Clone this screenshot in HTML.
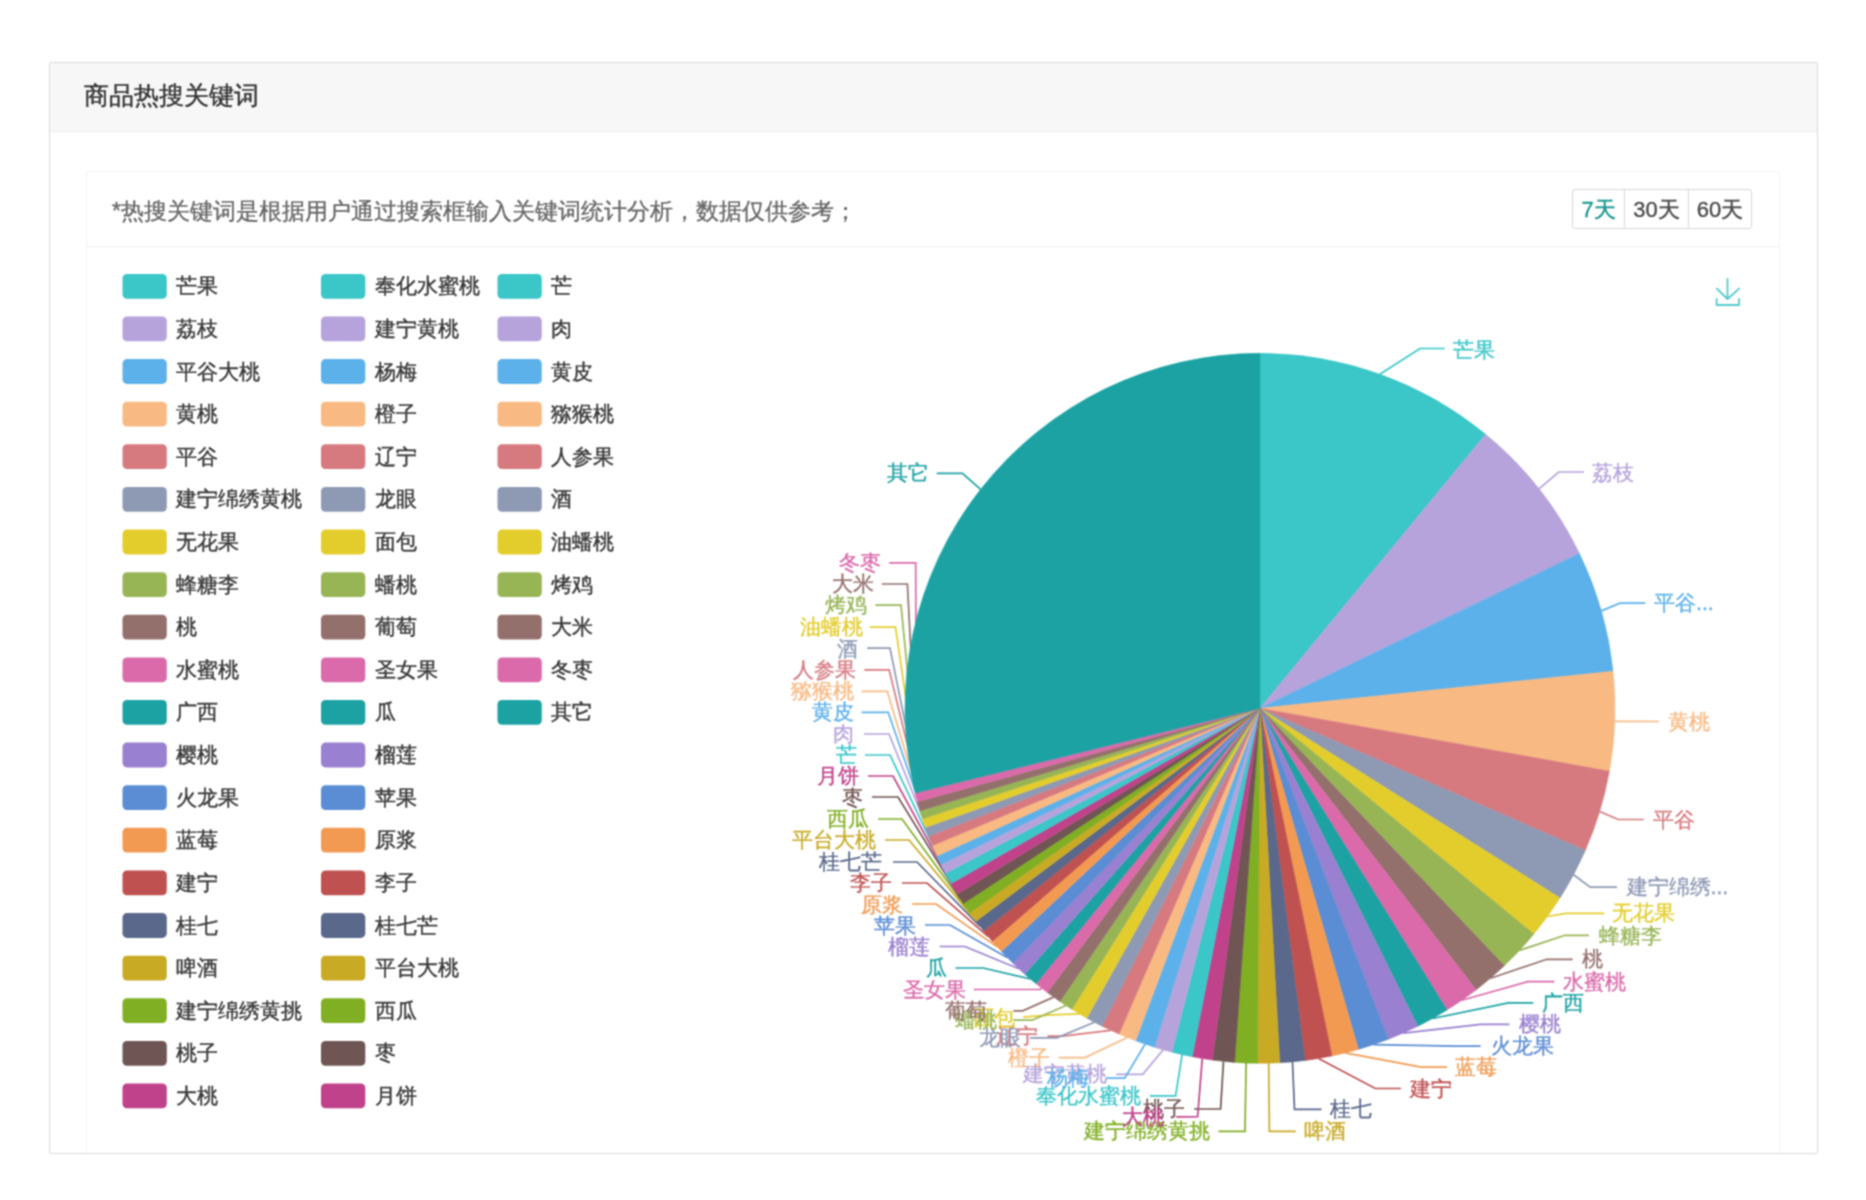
<!DOCTYPE html>
<html><head><meta charset="utf-8"><title>商品热搜关键词</title>
<style>
html,body{margin:0;padding:0;background:#fff;}
body{width:1866px;height:1200px;overflow:hidden;position:relative;font-family:"Liberation Sans",sans-serif;}
.wrap{position:absolute;left:0;top:0;width:1866px;height:1200px;filter:url(#soft);}
.panel{position:absolute;left:49px;top:62px;width:1767px;height:1090px;border:1px solid #dadada;border-radius:2px;background:#fff;overflow:hidden;}
.head{position:absolute;left:0;top:0;right:0;height:68px;background:#f7f7f7;border-bottom:1px solid #ececec;}
.title{position:absolute;left:34px;top:18px;font-size:24.8px;line-height:30px;color:#333;white-space:nowrap;-webkit-text-stroke:0.4px #333;}
.card{position:absolute;left:36px;top:108px;width:1692px;height:990px;border:1px solid #f3f3f3;border-bottom:none;}
.cardhead{position:absolute;left:0;top:0;right:0;height:74px;border-bottom:1px solid #efefef;}
.note{position:absolute;left:25px;top:25px;font-size:23px;line-height:28px;color:#666;white-space:nowrap;-webkit-text-stroke:0.3px #666;}
.btns{position:absolute;left:1485px;top:17px;height:38px;border:1px solid #d6d6d6;border-radius:3px;display:flex;}
.btns div{height:38px;line-height:40px;font-size:22px;color:#484848;text-align:center;-webkit-text-stroke:0.35px currentColor;}
.btns .b1{width:51px;color:#18968f;border-right:1px solid #d6d6d6;}
.btns .b2{width:63px;border-right:1px solid #d6d6d6;}
.btns .b3{width:62px;}
.chart{position:absolute;left:0;top:0;font-family:"Liberation Sans",sans-serif;}
</style></head><body>
<svg width="0" height="0" style="position:absolute;left:0;top:0"><filter id="soft" x="0" y="0" width="100%" height="100%" color-interpolation-filters="sRGB"><feConvolveMatrix order="3" kernelMatrix="1 2 1 2 4 2 1 2 1" divisor="16" edgeMode="duplicate"/></filter></svg>
<div class="wrap">
<div class="panel">
 <div class="head"><div class="title">商品热搜关键词</div></div>
 <div class="card">
  <div class="cardhead">
   <div class="note">*热搜关键词是根据用户通过搜索框输入关键词统计分析，数据仅供参考；</div>
   <div class="btns"><div class="b1">7天</div><div class="b2">30天</div><div class="b3">60天</div></div>
  </div>
 </div>
</div>
<svg class="chart" width="1866" height="1200" viewBox="0 0 1866 1200">
<g class="legend" font-size="21.3" fill="#383838" stroke="#383838" stroke-width="0.4" dominant-baseline="central">
<rect x="122.5" y="273.9" width="44.3" height="24.8" rx="4.5" fill="#3bc6c8" stroke="none"/>
<text x="176" y="286.3">芒果</text>
<rect x="122.5" y="316.5" width="44.3" height="24.8" rx="4.5" fill="#b6a3dc" stroke="none"/>
<text x="176" y="328.9">荔枝</text>
<rect x="122.5" y="359.1" width="44.3" height="24.8" rx="4.5" fill="#5db1ea" stroke="none"/>
<text x="176" y="371.5">平谷大桃</text>
<rect x="122.5" y="401.7" width="44.3" height="24.8" rx="4.5" fill="#f9b982" stroke="none"/>
<text x="176" y="414.1">黄桃</text>
<rect x="122.5" y="444.3" width="44.3" height="24.8" rx="4.5" fill="#d67a80" stroke="none"/>
<text x="176" y="456.7">平谷</text>
<rect x="122.5" y="487.0" width="44.3" height="24.8" rx="4.5" fill="#8e99b4" stroke="none"/>
<text x="176" y="499.4">建宁绵绣黄桃</text>
<rect x="122.5" y="529.6" width="44.3" height="24.8" rx="4.5" fill="#e3cd2d" stroke="none"/>
<text x="176" y="542.0">无花果</text>
<rect x="122.5" y="572.2" width="44.3" height="24.8" rx="4.5" fill="#98b556" stroke="none"/>
<text x="176" y="584.6">蜂糖李</text>
<rect x="122.5" y="614.8" width="44.3" height="24.8" rx="4.5" fill="#94706d" stroke="none"/>
<text x="176" y="627.2">桃</text>
<rect x="122.5" y="657.4" width="44.3" height="24.8" rx="4.5" fill="#da6aaa" stroke="none"/>
<text x="176" y="669.8">水蜜桃</text>
<rect x="122.5" y="700.0" width="44.3" height="24.8" rx="4.5" fill="#1da2a3" stroke="none"/>
<text x="176" y="712.4">广西</text>
<rect x="122.5" y="742.6" width="44.3" height="24.8" rx="4.5" fill="#9a80d0" stroke="none"/>
<text x="176" y="755.0">樱桃</text>
<rect x="122.5" y="785.2" width="44.3" height="24.8" rx="4.5" fill="#5b8dd4" stroke="none"/>
<text x="176" y="797.6">火龙果</text>
<rect x="122.5" y="827.8" width="44.3" height="24.8" rx="4.5" fill="#f29a52" stroke="none"/>
<text x="176" y="840.2">蓝莓</text>
<rect x="122.5" y="870.4" width="44.3" height="24.8" rx="4.5" fill="#c05151" stroke="none"/>
<text x="176" y="882.8">建宁</text>
<rect x="122.5" y="913.1" width="44.3" height="24.8" rx="4.5" fill="#5a688b" stroke="none"/>
<text x="176" y="925.5">桂七</text>
<rect x="122.5" y="955.7" width="44.3" height="24.8" rx="4.5" fill="#c9aa25" stroke="none"/>
<text x="176" y="968.1">啤酒</text>
<rect x="122.5" y="998.3" width="44.3" height="24.8" rx="4.5" fill="#80af24" stroke="none"/>
<text x="176" y="1010.7">建宁绵绣黄挑</text>
<rect x="122.5" y="1040.9" width="44.3" height="24.8" rx="4.5" fill="#6f5553" stroke="none"/>
<text x="176" y="1053.3">桃子</text>
<rect x="122.5" y="1083.5" width="44.3" height="24.8" rx="4.5" fill="#c0428a" stroke="none"/>
<text x="176" y="1095.9">大桃</text>
<rect x="321" y="273.9" width="44.3" height="24.8" rx="4.5" fill="#3bc6c8" stroke="none"/>
<text x="374.5" y="286.3">奉化水蜜桃</text>
<rect x="321" y="316.5" width="44.3" height="24.8" rx="4.5" fill="#b6a3dc" stroke="none"/>
<text x="374.5" y="328.9">建宁黄桃</text>
<rect x="321" y="359.1" width="44.3" height="24.8" rx="4.5" fill="#5db1ea" stroke="none"/>
<text x="374.5" y="371.5">杨梅</text>
<rect x="321" y="401.7" width="44.3" height="24.8" rx="4.5" fill="#f9b982" stroke="none"/>
<text x="374.5" y="414.1">橙子</text>
<rect x="321" y="444.3" width="44.3" height="24.8" rx="4.5" fill="#d67a80" stroke="none"/>
<text x="374.5" y="456.7">辽宁</text>
<rect x="321" y="487.0" width="44.3" height="24.8" rx="4.5" fill="#8e99b4" stroke="none"/>
<text x="374.5" y="499.4">龙眼</text>
<rect x="321" y="529.6" width="44.3" height="24.8" rx="4.5" fill="#e3cd2d" stroke="none"/>
<text x="374.5" y="542.0">面包</text>
<rect x="321" y="572.2" width="44.3" height="24.8" rx="4.5" fill="#98b556" stroke="none"/>
<text x="374.5" y="584.6">蟠桃</text>
<rect x="321" y="614.8" width="44.3" height="24.8" rx="4.5" fill="#94706d" stroke="none"/>
<text x="374.5" y="627.2">葡萄</text>
<rect x="321" y="657.4" width="44.3" height="24.8" rx="4.5" fill="#da6aaa" stroke="none"/>
<text x="374.5" y="669.8">圣女果</text>
<rect x="321" y="700.0" width="44.3" height="24.8" rx="4.5" fill="#1da2a3" stroke="none"/>
<text x="374.5" y="712.4">瓜</text>
<rect x="321" y="742.6" width="44.3" height="24.8" rx="4.5" fill="#9a80d0" stroke="none"/>
<text x="374.5" y="755.0">榴莲</text>
<rect x="321" y="785.2" width="44.3" height="24.8" rx="4.5" fill="#5b8dd4" stroke="none"/>
<text x="374.5" y="797.6">苹果</text>
<rect x="321" y="827.8" width="44.3" height="24.8" rx="4.5" fill="#f29a52" stroke="none"/>
<text x="374.5" y="840.2">原浆</text>
<rect x="321" y="870.4" width="44.3" height="24.8" rx="4.5" fill="#c05151" stroke="none"/>
<text x="374.5" y="882.8">李子</text>
<rect x="321" y="913.1" width="44.3" height="24.8" rx="4.5" fill="#5a688b" stroke="none"/>
<text x="374.5" y="925.5">桂七芒</text>
<rect x="321" y="955.7" width="44.3" height="24.8" rx="4.5" fill="#c9aa25" stroke="none"/>
<text x="374.5" y="968.1">平台大桃</text>
<rect x="321" y="998.3" width="44.3" height="24.8" rx="4.5" fill="#80af24" stroke="none"/>
<text x="374.5" y="1010.7">西瓜</text>
<rect x="321" y="1040.9" width="44.3" height="24.8" rx="4.5" fill="#6f5553" stroke="none"/>
<text x="374.5" y="1053.3">枣</text>
<rect x="321" y="1083.5" width="44.3" height="24.8" rx="4.5" fill="#c0428a" stroke="none"/>
<text x="374.5" y="1095.9">月饼</text>
<rect x="497.5" y="273.9" width="44.3" height="24.8" rx="4.5" fill="#3bc6c8" stroke="none"/>
<text x="551" y="286.3">芒</text>
<rect x="497.5" y="316.5" width="44.3" height="24.8" rx="4.5" fill="#b6a3dc" stroke="none"/>
<text x="551" y="328.9">肉</text>
<rect x="497.5" y="359.1" width="44.3" height="24.8" rx="4.5" fill="#5db1ea" stroke="none"/>
<text x="551" y="371.5">黄皮</text>
<rect x="497.5" y="401.7" width="44.3" height="24.8" rx="4.5" fill="#f9b982" stroke="none"/>
<text x="551" y="414.1">猕猴桃</text>
<rect x="497.5" y="444.3" width="44.3" height="24.8" rx="4.5" fill="#d67a80" stroke="none"/>
<text x="551" y="456.7">人参果</text>
<rect x="497.5" y="487.0" width="44.3" height="24.8" rx="4.5" fill="#8e99b4" stroke="none"/>
<text x="551" y="499.4">酒</text>
<rect x="497.5" y="529.6" width="44.3" height="24.8" rx="4.5" fill="#e3cd2d" stroke="none"/>
<text x="551" y="542.0">油蟠桃</text>
<rect x="497.5" y="572.2" width="44.3" height="24.8" rx="4.5" fill="#98b556" stroke="none"/>
<text x="551" y="584.6">烤鸡</text>
<rect x="497.5" y="614.8" width="44.3" height="24.8" rx="4.5" fill="#94706d" stroke="none"/>
<text x="551" y="627.2">大米</text>
<rect x="497.5" y="657.4" width="44.3" height="24.8" rx="4.5" fill="#da6aaa" stroke="none"/>
<text x="551" y="669.8">冬枣</text>
<rect x="497.5" y="700.0" width="44.3" height="24.8" rx="4.5" fill="#1da2a3" stroke="none"/>
<text x="551" y="712.4">其它</text>
</g>
<g class="lines" fill="none" stroke-width="1.7">
<polyline points="1379.9,374.2 1420.0,348.5 1444.8,348.5" stroke="#3bc6c8"/>
<polyline points="1539.0,488.8 1558.7,472.0 1584.0,472.0" stroke="#b6a3dc"/>
<polyline points="1601.4,610.9 1620.0,603.2 1645.3,603.2" stroke="#5db1ea"/>
<polyline points="1614.8,721.3 1659.0,721.5" stroke="#f9b982"/>
<polyline points="1599.7,811.5 1618.2,819.5 1643.8,819.5" stroke="#d67a80"/>
<polyline points="1573.6,874.7 1590.2,887.2 1617.0,887.2" stroke="#8e99b4"/>
<polyline points="1547.6,916.5 1565.7,913.3 1604.2,913.3" stroke="#e3cd2d"/>
<polyline points="1519.6,950.4 1564.9,935.3 1588.9,935.3" stroke="#98b556"/>
<polyline points="1490.6,978.2 1546.7,959.3 1572.6,959.3" stroke="#94706d"/>
<polyline points="1461.8,1000.3 1527.6,981.7 1554.4,981.7" stroke="#da6aaa"/>
<polyline points="1432.6,1018.5 1508.4,1002.8 1533.3,1002.8" stroke="#1da2a3"/>
<polyline points="1403.3,1033.1 1480.6,1024.4 1509.4,1024.4" stroke="#9a80d0"/>
<polyline points="1373.5,1044.7 1455.0,1046.1 1480.6,1046.1" stroke="#5b8dd4"/>
<polyline points="1345.3,1052.9 1421.2,1067.2 1447.1,1067.2" stroke="#f29a52"/>
<polyline points="1318.6,1058.4 1375.3,1088.5 1401.0,1088.5" stroke="#c05151"/>
<polyline points="1292.5,1061.8 1294.5,1109.4 1321.6,1109.4" stroke="#5a688b"/>
<polyline points="1268.7,1063.2 1269.4,1131.3 1295.8,1131.3" stroke="#c9aa25"/>
<polyline points="1246.1,1063.0 1245.0,1131.3 1218.5,1131.3" stroke="#80af24"/>
<polyline points="1223.5,1061.4 1220.6,1109.0 1194.1,1109.0" stroke="#6f5553"/>
<polyline points="1202.3,1058.6 1197.6,1116.6 1176.3,1116.8" stroke="#c0428a"/>
<polyline points="1182.1,1054.6 1175.6,1095.9 1149.8,1095.9" stroke="#3bc6c8"/>
<polyline points="1163.2,1049.8 1142.8,1074.3 1116.3,1074.3" stroke="#b6a3dc"/>
<polyline points="1145.0,1044.2 1124.7,1078.1 1105.9,1078.1" stroke="#5db1ea"/>
<polyline points="1127.3,1037.6 1085.0,1057.6 1058.5,1057.6" stroke="#f9b982"/>
<polyline points="1110.5,1030.3 1062.8,1036.1 1047.5,1036.1" stroke="#d67a80"/>
<polyline points="1094.4,1022.3 1056.9,1037.9 1029.8,1037.9" stroke="#8e99b4"/>
<polyline points="1079.3,1013.9 1051.0,1014.9 1023.3,1017.2" stroke="#e3cd2d"/>
<polyline points="1065.9,1005.5 1032.1,1020.2 1013.3,1020.2" stroke="#98b556"/>
<polyline points="1053.6,997.1 1022.7,1010.8 1013.3,1010.8" stroke="#94706d"/>
<polyline points="1041.7,988.2 1040.0,989.5 973.8,989.5" stroke="#da6aaa"/>
<polyline points="1030.4,979.0 983.2,968.0 955.5,968.0" stroke="#1da2a3"/>
<polyline points="1018.8,968.8 964.9,946.5 939.6,946.5" stroke="#9a80d0"/>
<polyline points="1007.1,957.4 950.0,925.0 925.0,925.0" stroke="#5b8dd4"/>
<polyline points="996.8,946.6 936.0,904.0 912.0,904.0" stroke="#f29a52"/>
<polyline points="987.9,936.3 927.0,883.0 902.0,883.0" stroke="#c05151"/>
<polyline points="979.8,926.2 917.0,862.0 893.0,862.0" stroke="#5a688b"/>
<polyline points="972.9,917.1 909.0,840.0 885.0,840.0" stroke="#c9aa25"/>
<polyline points="966.6,908.1 902.0,819.0 878.0,819.0" stroke="#80af24"/>
<polyline points="960.5,898.8 898.0,797.0 872.0,797.0" stroke="#6f5553"/>
<polyline points="954.3,888.8 893.0,776.0 868.0,776.0" stroke="#c0428a"/>
<polyline points="948.4,878.3 890.0,755.0 865.0,755.0" stroke="#3bc6c8"/>
<polyline points="943.4,868.8 889.0,734.0 864.0,734.0" stroke="#b6a3dc"/>
<polyline points="939.1,860.2 888.2,712.3 861.6,712.3" stroke="#5db1ea"/>
<polyline points="934.8,850.8 887.3,691.3 861.6,691.3" stroke="#f9b982"/>
<polyline points="930.7,840.8 889.1,669.8 864.3,669.8" stroke="#d67a80"/>
<polyline points="927.2,831.8 890.0,648.2 867.1,648.2" stroke="#8e99b4"/>
<polyline points="924.1,823.1 895.5,627.1 869.8,627.1" stroke="#e3cd2d"/>
<polyline points="921.4,814.8 901.0,605.1 875.3,605.1" stroke="#98b556"/>
<polyline points="918.8,806.2 907.4,584.0 881.8,584.0" stroke="#94706d"/>
<polyline points="916.4,797.4 915.7,562.9 889.1,562.9" stroke="#da6aaa"/>
<polyline points="980.6,489.3 962.5,473.3 936.8,473.3" stroke="#1da2a3"/>
</g>
<g class="slices">
<path d="M1260.0,708.3L1260.00,353.30A355.0,355.0 0 0 1 1485.66,434.26Z" fill="#3bc6c8" stroke="#3bc6c8" stroke-width="0.5" stroke-linejoin="round"/>
<path d="M1260.0,708.3L1485.66,434.26A355.0,355.0 0 0 1 1579.45,553.46Z" fill="#b6a3dc" stroke="#b6a3dc" stroke-width="0.5" stroke-linejoin="round"/>
<path d="M1260.0,708.3L1579.45,553.46A355.0,355.0 0 0 1 1613.06,671.19Z" fill="#5db1ea" stroke="#5db1ea" stroke-width="0.5" stroke-linejoin="round"/>
<path d="M1260.0,708.3L1613.06,671.19A355.0,355.0 0 0 1 1609.39,771.17Z" fill="#f9b982" stroke="#f9b982" stroke-width="0.5" stroke-linejoin="round"/>
<path d="M1260.0,708.3L1609.39,771.17A355.0,355.0 0 0 1 1585.31,850.42Z" fill="#d67a80" stroke="#d67a80" stroke-width="0.5" stroke-linejoin="round"/>
<path d="M1260.0,708.3L1585.31,850.42A355.0,355.0 0 0 1 1560.07,898.00Z" fill="#8e99b4" stroke="#8e99b4" stroke-width="0.5" stroke-linejoin="round"/>
<path d="M1260.0,708.3L1560.07,898.00A355.0,355.0 0 0 1 1533.93,934.11Z" fill="#e3cd2d" stroke="#e3cd2d" stroke-width="0.5" stroke-linejoin="round"/>
<path d="M1260.0,708.3L1533.93,934.11A355.0,355.0 0 0 1 1504.37,965.81Z" fill="#98b556" stroke="#98b556" stroke-width="0.5" stroke-linejoin="round"/>
<path d="M1260.0,708.3L1504.37,965.81A355.0,355.0 0 0 1 1476.11,989.94Z" fill="#94706d" stroke="#94706d" stroke-width="0.5" stroke-linejoin="round"/>
<path d="M1260.0,708.3L1476.11,989.94A355.0,355.0 0 0 1 1447.07,1010.01Z" fill="#da6aaa" stroke="#da6aaa" stroke-width="0.5" stroke-linejoin="round"/>
<path d="M1260.0,708.3L1447.07,1010.01A355.0,355.0 0 0 1 1417.85,1026.28Z" fill="#1da2a3" stroke="#1da2a3" stroke-width="0.5" stroke-linejoin="round"/>
<path d="M1260.0,708.3L1417.85,1026.28A355.0,355.0 0 0 1 1388.38,1039.27Z" fill="#9a80d0" stroke="#9a80d0" stroke-width="0.5" stroke-linejoin="round"/>
<path d="M1260.0,708.3L1388.38,1039.27A355.0,355.0 0 0 1 1358.45,1049.38Z" fill="#5b8dd4" stroke="#5b8dd4" stroke-width="0.5" stroke-linejoin="round"/>
<path d="M1260.0,708.3L1358.45,1049.38A355.0,355.0 0 0 1 1331.99,1055.92Z" fill="#f29a52" stroke="#f29a52" stroke-width="0.5" stroke-linejoin="round"/>
<path d="M1260.0,708.3L1331.99,1055.92A355.0,355.0 0 0 1 1305.11,1060.42Z" fill="#c05151" stroke="#c05151" stroke-width="0.5" stroke-linejoin="round"/>
<path d="M1260.0,708.3L1305.11,1060.42A355.0,355.0 0 0 1 1279.82,1062.75Z" fill="#5a688b" stroke="#5a688b" stroke-width="0.5" stroke-linejoin="round"/>
<path d="M1260.0,708.3L1279.82,1062.75A355.0,355.0 0 0 1 1257.52,1063.29Z" fill="#c9aa25" stroke="#c9aa25" stroke-width="0.5" stroke-linejoin="round"/>
<path d="M1260.0,708.3L1257.52,1063.29A355.0,355.0 0 0 1 1234.62,1062.39Z" fill="#80af24" stroke="#80af24" stroke-width="0.5" stroke-linejoin="round"/>
<path d="M1260.0,708.3L1234.62,1062.39A355.0,355.0 0 0 1 1212.43,1060.10Z" fill="#6f5553" stroke="#6f5553" stroke-width="0.5" stroke-linejoin="round"/>
<path d="M1260.0,708.3L1212.43,1060.10A355.0,355.0 0 0 1 1192.26,1056.78Z" fill="#c0428a" stroke="#c0428a" stroke-width="0.5" stroke-linejoin="round"/>
<path d="M1260.0,708.3L1192.26,1056.78A355.0,355.0 0 0 1 1172.02,1052.22Z" fill="#3bc6c8" stroke="#3bc6c8" stroke-width="0.5" stroke-linejoin="round"/>
<path d="M1260.0,708.3L1172.02,1052.22A355.0,355.0 0 0 1 1154.43,1047.24Z" fill="#b6a3dc" stroke="#b6a3dc" stroke-width="0.5" stroke-linejoin="round"/>
<path d="M1260.0,708.3L1154.43,1047.24A355.0,355.0 0 0 1 1135.68,1040.82Z" fill="#5db1ea" stroke="#5db1ea" stroke-width="0.5" stroke-linejoin="round"/>
<path d="M1260.0,708.3L1135.68,1040.82A355.0,355.0 0 0 1 1119.01,1034.10Z" fill="#f9b982" stroke="#f9b982" stroke-width="0.5" stroke-linejoin="round"/>
<path d="M1260.0,708.3L1119.01,1034.10A355.0,355.0 0 0 1 1102.15,1026.28Z" fill="#d67a80" stroke="#d67a80" stroke-width="0.5" stroke-linejoin="round"/>
<path d="M1260.0,708.3L1102.15,1026.28A355.0,355.0 0 0 1 1086.81,1018.19Z" fill="#8e99b4" stroke="#8e99b4" stroke-width="0.5" stroke-linejoin="round"/>
<path d="M1260.0,708.3L1086.81,1018.19A355.0,355.0 0 0 1 1071.88,1009.36Z" fill="#e3cd2d" stroke="#e3cd2d" stroke-width="0.5" stroke-linejoin="round"/>
<path d="M1260.0,708.3L1071.88,1009.36A355.0,355.0 0 0 1 1059.95,1001.56Z" fill="#98b556" stroke="#98b556" stroke-width="0.5" stroke-linejoin="round"/>
<path d="M1260.0,708.3L1059.95,1001.56A355.0,355.0 0 0 1 1047.35,992.56Z" fill="#94706d" stroke="#94706d" stroke-width="0.5" stroke-linejoin="round"/>
<path d="M1260.0,708.3L1047.35,992.56A355.0,355.0 0 0 1 1036.11,983.80Z" fill="#da6aaa" stroke="#da6aaa" stroke-width="0.5" stroke-linejoin="round"/>
<path d="M1260.0,708.3L1036.11,983.80A355.0,355.0 0 0 1 1024.77,974.18Z" fill="#1da2a3" stroke="#1da2a3" stroke-width="0.5" stroke-linejoin="round"/>
<path d="M1260.0,708.3L1024.77,974.18A355.0,355.0 0 0 1 1012.91,963.19Z" fill="#9a80d0" stroke="#9a80d0" stroke-width="0.5" stroke-linejoin="round"/>
<path d="M1260.0,708.3L1012.91,963.19A355.0,355.0 0 0 1 1001.43,951.54Z" fill="#5b8dd4" stroke="#5b8dd4" stroke-width="0.5" stroke-linejoin="round"/>
<path d="M1260.0,708.3L1001.43,951.54A355.0,355.0 0 0 1 992.32,941.48Z" fill="#f29a52" stroke="#f29a52" stroke-width="0.5" stroke-linejoin="round"/>
<path d="M1260.0,708.3L992.32,941.48A355.0,355.0 0 0 1 983.61,931.08Z" fill="#c05151" stroke="#c05151" stroke-width="0.5" stroke-linejoin="round"/>
<path d="M1260.0,708.3L983.61,931.08A355.0,355.0 0 0 1 976.04,921.35Z" fill="#5a688b" stroke="#5a688b" stroke-width="0.5" stroke-linejoin="round"/>
<path d="M1260.0,708.3L976.04,921.35A355.0,355.0 0 0 1 969.77,912.73Z" fill="#c9aa25" stroke="#c9aa25" stroke-width="0.5" stroke-linejoin="round"/>
<path d="M1260.0,708.3L969.77,912.73A355.0,355.0 0 0 1 963.49,903.51Z" fill="#80af24" stroke="#80af24" stroke-width="0.5" stroke-linejoin="round"/>
<path d="M1260.0,708.3L963.49,903.51A355.0,355.0 0 0 1 957.51,894.10Z" fill="#6f5553" stroke="#6f5553" stroke-width="0.5" stroke-linejoin="round"/>
<path d="M1260.0,708.3L957.51,894.10A355.0,355.0 0 0 1 951.18,883.38Z" fill="#c0428a" stroke="#c0428a" stroke-width="0.5" stroke-linejoin="round"/>
<path d="M1260.0,708.3L951.18,883.38A355.0,355.0 0 0 1 945.63,873.21Z" fill="#3bc6c8" stroke="#3bc6c8" stroke-width="0.5" stroke-linejoin="round"/>
<path d="M1260.0,708.3L945.63,873.21A355.0,355.0 0 0 1 941.17,864.42Z" fill="#b6a3dc" stroke="#b6a3dc" stroke-width="0.5" stroke-linejoin="round"/>
<path d="M1260.0,708.3L941.17,864.42A355.0,355.0 0 0 1 937.14,855.91Z" fill="#5db1ea" stroke="#5db1ea" stroke-width="0.5" stroke-linejoin="round"/>
<path d="M1260.0,708.3L937.14,855.91A355.0,355.0 0 0 1 932.62,845.58Z" fill="#f9b982" stroke="#f9b982" stroke-width="0.5" stroke-linejoin="round"/>
<path d="M1260.0,708.3L932.62,845.58A355.0,355.0 0 0 1 928.78,836.04Z" fill="#d67a80" stroke="#d67a80" stroke-width="0.5" stroke-linejoin="round"/>
<path d="M1260.0,708.3L928.78,836.04A355.0,355.0 0 0 1 925.59,827.44Z" fill="#8e99b4" stroke="#8e99b4" stroke-width="0.5" stroke-linejoin="round"/>
<path d="M1260.0,708.3L925.59,827.44A355.0,355.0 0 0 1 922.64,818.83Z" fill="#e3cd2d" stroke="#e3cd2d" stroke-width="0.5" stroke-linejoin="round"/>
<path d="M1260.0,708.3L922.64,818.83A355.0,355.0 0 0 1 920.12,810.79Z" fill="#98b556" stroke="#98b556" stroke-width="0.5" stroke-linejoin="round"/>
<path d="M1260.0,708.3L920.12,810.79A355.0,355.0 0 0 1 917.50,801.68Z" fill="#94706d" stroke="#94706d" stroke-width="0.5" stroke-linejoin="round"/>
<path d="M1260.0,708.3L917.50,801.68A355.0,355.0 0 0 1 915.28,793.10Z" fill="#da6aaa" stroke="#da6aaa" stroke-width="0.5" stroke-linejoin="round"/>
<path d="M1260.0,708.3L915.28,793.10A355.0,355.0 0 0 1 1260.00,353.30Z" fill="#1da2a3" stroke="#1da2a3" stroke-width="0.5" stroke-linejoin="round"/>
</g>
<g class="labels" font-size="21.3" stroke-width="0.3" dominant-baseline="central">
<text x="1453" y="349.5" fill="#3bc6c8" stroke="#3bc6c8" text-anchor="start">芒果</text>
<text x="1592" y="472.5" fill="#b6a3dc" stroke="#b6a3dc" text-anchor="start">荔枝</text>
<text x="1654" y="603.2" fill="#5db1ea" stroke="#5db1ea" text-anchor="start">平谷...</text>
<text x="1668" y="721.8" fill="#f9b982" stroke="#f9b982" text-anchor="start">黄桃</text>
<text x="1652.5" y="819.5" fill="#d67a80" stroke="#d67a80" text-anchor="start">平谷</text>
<text x="1626.5" y="887.2" fill="#8e99b4" stroke="#8e99b4" text-anchor="start">建宁绵绣...</text>
<text x="1612" y="913.3" fill="#e3cd2d" stroke="#e3cd2d" text-anchor="start">无花果</text>
<text x="1598.5" y="935.5" fill="#98b556" stroke="#98b556" text-anchor="start">蜂糖李</text>
<text x="1582" y="959.3" fill="#94706d" stroke="#94706d" text-anchor="start">桃</text>
<text x="1562.5" y="982.0" fill="#da6aaa" stroke="#da6aaa" text-anchor="start">水蜜桃</text>
<text x="1542" y="1002.8" fill="#1da2a3" stroke="#1da2a3" text-anchor="start">广西</text>
<text x="1519" y="1024.4" fill="#9a80d0" stroke="#9a80d0" text-anchor="start">樱桃</text>
<text x="1490.5" y="1046.1" fill="#5b8dd4" stroke="#5b8dd4" text-anchor="start">火龙果</text>
<text x="1455" y="1067.2" fill="#f29a52" stroke="#f29a52" text-anchor="start">蓝莓</text>
<text x="1410" y="1088.6" fill="#c05151" stroke="#c05151" text-anchor="start">建宁</text>
<text x="1330" y="1109.4" fill="#5a688b" stroke="#5a688b" text-anchor="start">桂七</text>
<text x="1304" y="1131.3" fill="#c9aa25" stroke="#c9aa25" text-anchor="start">啤酒</text>
<text x="1210" y="1130.7" fill="#80af24" stroke="#80af24" text-anchor="end">建宁绵绣黄挑</text>
<text x="1184.5" y="1108.6" fill="#6f5553" stroke="#6f5553" text-anchor="end">桃子</text>
<text x="1163.5" y="1116.8" fill="#c0428a" stroke="#c0428a" text-anchor="end">大桃</text>
<text x="1141" y="1095.9" fill="#3bc6c8" stroke="#3bc6c8" text-anchor="end">奉化水蜜桃</text>
<text x="1106.5" y="1074.3" fill="#b6a3dc" stroke="#b6a3dc" text-anchor="end">建宁黄桃</text>
<text x="1089" y="1078.0" fill="#5db1ea" stroke="#5db1ea" text-anchor="end">杨梅</text>
<text x="1049.5" y="1058.0" fill="#f9b982" stroke="#f9b982" text-anchor="end">橙子</text>
<text x="1037.5" y="1035.5" fill="#d67a80" stroke="#d67a80" text-anchor="end">辽宁</text>
<text x="1020.5" y="1037.9" fill="#8e99b4" stroke="#8e99b4" text-anchor="end">龙眼</text>
<text x="1015" y="1017.8" fill="#e3cd2d" stroke="#e3cd2d" text-anchor="end">面包</text>
<text x="996.5" y="1020.2" fill="#98b556" stroke="#98b556" text-anchor="end">蟠桃</text>
<text x="987" y="1010.8" fill="#94706d" stroke="#94706d" text-anchor="end">葡萄</text>
<text x="966" y="989.5" fill="#da6aaa" stroke="#da6aaa" text-anchor="end">圣女果</text>
<text x="947" y="967.7" fill="#1da2a3" stroke="#1da2a3" text-anchor="end">瓜</text>
<text x="930" y="947.0" fill="#9a80d0" stroke="#9a80d0" text-anchor="end">榴莲</text>
<text x="916" y="926.0" fill="#5b8dd4" stroke="#5b8dd4" text-anchor="end">苹果</text>
<text x="903" y="905.0" fill="#f29a52" stroke="#f29a52" text-anchor="end">原浆</text>
<text x="892" y="883.0" fill="#c05151" stroke="#c05151" text-anchor="end">李子</text>
<text x="882" y="862.0" fill="#5a688b" stroke="#5a688b" text-anchor="end">桂七芒</text>
<text x="876" y="840.0" fill="#c9aa25" stroke="#c9aa25" text-anchor="end">平台大桃</text>
<text x="869" y="819.0" fill="#80af24" stroke="#80af24" text-anchor="end">西瓜</text>
<text x="863" y="798.0" fill="#6f5553" stroke="#6f5553" text-anchor="end">枣</text>
<text x="859" y="776.0" fill="#c0428a" stroke="#c0428a" text-anchor="end">月饼</text>
<text x="857" y="755.0" fill="#3bc6c8" stroke="#3bc6c8" text-anchor="end">芒</text>
<text x="854" y="734.0" fill="#b6a3dc" stroke="#b6a3dc" text-anchor="end">肉</text>
<text x="853.5" y="712.3" fill="#5db1ea" stroke="#5db1ea" text-anchor="end">黄皮</text>
<text x="854.4" y="691.3" fill="#f9b982" stroke="#f9b982" text-anchor="end">猕猴桃</text>
<text x="856.3" y="669.5" fill="#d67a80" stroke="#d67a80" text-anchor="end">人参果</text>
<text x="858" y="649.0" fill="#8e99b4" stroke="#8e99b4" text-anchor="end">酒</text>
<text x="862.7" y="627.1" fill="#e3cd2d" stroke="#e3cd2d" text-anchor="end">油蟠桃</text>
<text x="867.3" y="605.1" fill="#98b556" stroke="#98b556" text-anchor="end">烤鸡</text>
<text x="873.7" y="584.0" fill="#94706d" stroke="#94706d" text-anchor="end">大米</text>
<text x="881" y="562.9" fill="#da6aaa" stroke="#da6aaa" text-anchor="end">冬枣</text>
<text x="929" y="473.0" fill="#1da2a3" stroke="#1da2a3" text-anchor="end">其它</text>
</g>
<g class="dl" fill="none" stroke="#55c9cc" stroke-width="1.8" stroke-linecap="round" stroke-linejoin="round">
<path d="M1727.5,278.8V298.6M1716.8,288.6L1727.5,299L1739.2,288.6"/>
<path d="M1716.6,299V305H1739V299"/>
</g>
</svg>
</div>
</body></html>
